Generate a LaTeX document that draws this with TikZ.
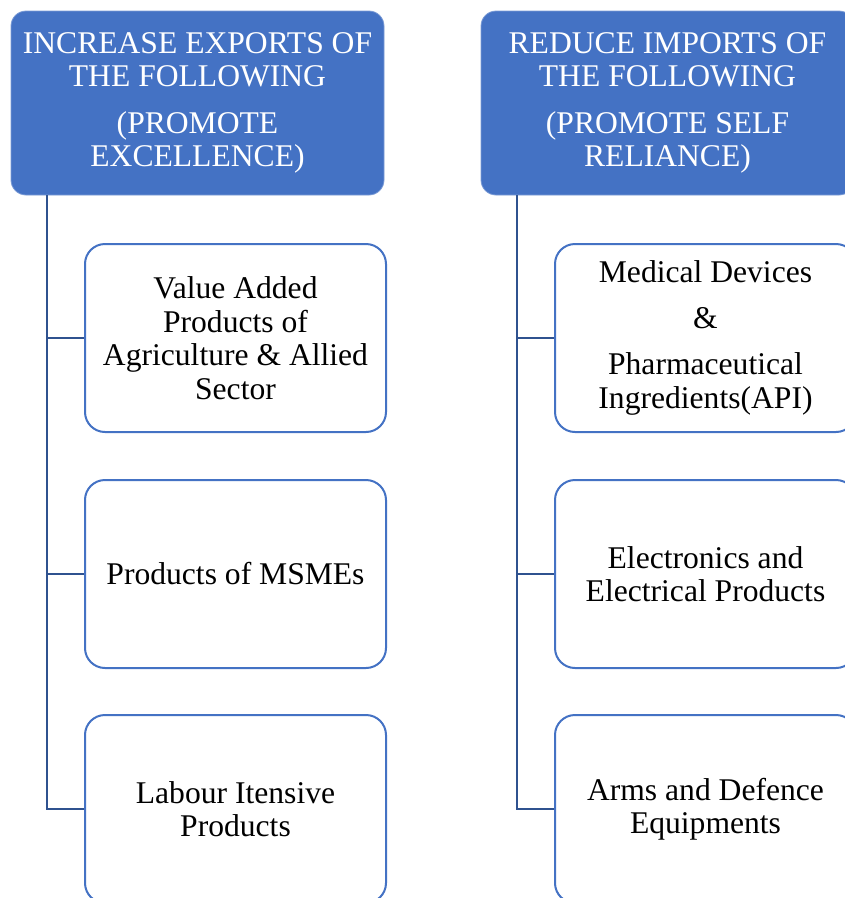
\documentclass[tikz,border=0pt]{standalone}
\usepackage{fontspec}
\setmainfont{Liberation Serif}
\definecolor{hdrblue}{HTML}{4472C4}
\definecolor{linkblue}{HTML}{2F528F}
\begin{document}
\begin{tikzpicture}[x=1pt,y=-1pt,
  hdr/.style={fill=hdrblue, draw=hdrblue!70!white, line width=0.8pt, rounded corners=15pt,
    minimum width=373pt, minimum height=184pt, inner sep=0pt, text=white, align=center,
    font=\fontsize{31.6}{33}\selectfont},
  item/.style={fill=white, draw=hdrblue, line width=2pt, rounded corners=20pt,
    minimum width=301pt, minimum height=188pt, inner sep=0pt, text=black, align=center,
    font=\fontsize{31.6}{33.5}\selectfont},
  conn/.style={draw=linkblue, line width=2.4pt}]
\useasboundingbox (0,0) rectangle (845,898);
\clip (0,0) rectangle (845,898);
% headers
\node[hdr] (hL) at (197.5,103) {INCREASE EXPORTS OF\\THE FOLLOWING\\[14pt](PROMOTE\\EXCELLENCE)};
\node[hdr] (hR) at (667.5,103) {REDUCE IMPORTS OF\\THE FOLLOWING\\[14pt](PROMOTE SELF\\RELIANCE)};
\coordinate (sL) at (47,195);
\coordinate (sR) at (517,195);
% left items
\node[item] (l1) at (235.5,338) {Value Added\\Products of\\Agriculture \& Allied\\Sector};
\node[item] (l2) at (235.5,574) {Products of MSMEs};
\node[item] (l3) at (235.5,809) {Labour Itensive\\Products};
% right items
\node[item] (r1) at (705.5,338) {Medical Devices\\[12pt]\&\\[13pt]Pharmaceutical\\Ingredients(API)};
\node[item] (r2) at (705.5,574) {Electronics and\\Electrical Products};
\node[item] (r3) at (705.5,809) {Arms and Defence\\Equipments};
% connectors
\draw[conn] (sL) |- (l1.west);
\draw[conn] (sL) |- (l2.west);
\draw[conn] (sL) |- (l3.west);
\draw[conn] (sR) |- (r1.west);
\draw[conn] (sR) |- (r2.west);
\draw[conn] (sR) |- (r3.west);
\end{tikzpicture}
\end{document}
